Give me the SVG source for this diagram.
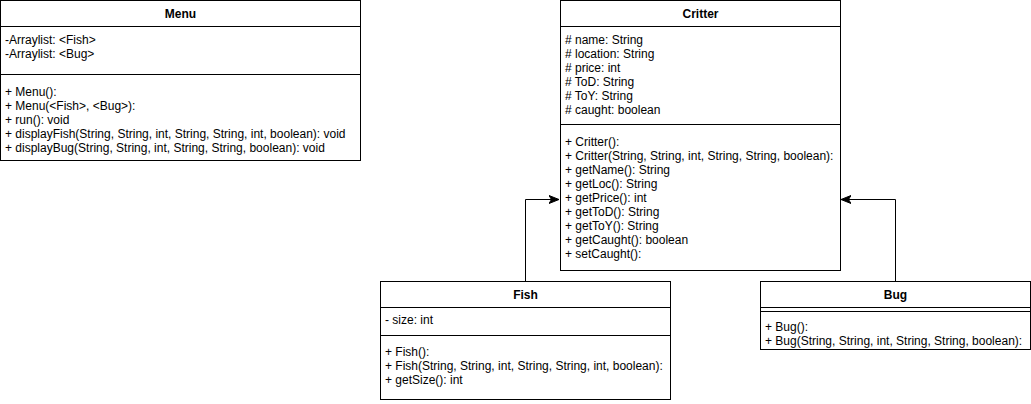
<svg xmlns="http://www.w3.org/2000/svg" width="1031" height="404" viewBox="0 0 1031 404">
<defs>
<style>
.box{fill:#ffffff;stroke:#000000;stroke-width:1}
.ln{stroke:#000000;stroke-width:1;fill:none}
.t{font-family:"Liberation Sans",Arial,Helvetica,sans-serif;font-size:12px;fill:#000000}
.h{font-family:"Liberation Sans",Arial,Helvetica,sans-serif;font-size:12px;font-weight:bold;fill:#000000;text-anchor:middle}
.edge{stroke:#000000;stroke-width:1;fill:none}
</style>
<marker id="arr" viewBox="0 0 10 10" refX="10" refY="5" markerWidth="10" markerHeight="10" markerUnits="userSpaceOnUse" orient="auto">
<path d="M0,1 L10,5 L0,9 L2.5,5 Z" fill="#000000" stroke="#000000" stroke-width="1"/>
</marker>
</defs>
<rect width="1031" height="404" fill="#ffffff"/>
<g id="connectors">
<path class="edge" d="M525.5,281 V199.5 H559" marker-end="url(#arr)"/>
<path class="edge" d="M895.5,281 V199.5 H841" marker-end="url(#arr)"/>
</g>
<g id="Menu">
<rect class="box" x="0.5" y="0.5" width="360" height="160"/>
<line class="ln" x1="0.5" y1="26.5" x2="360.5" y2="26.5"/>
<line class="ln" x1="0.5" y1="74.5" x2="360.5" y2="74.5"/>
<text class="h" x="180.5" y="18">Menu</text>
<text class="t" x="5" y="44">-Arraylist: &lt;Fish&gt;</text>
<text class="t" x="5" y="58">-Arraylist: &lt;Bug&gt;</text>
<text class="t" x="5" y="96">+ Menu():</text>
<text class="t" x="5" y="110">+ Menu(&lt;Fish&gt;, &lt;Bug&gt;):</text>
<text class="t" x="5" y="124">+ run(): void</text>
<text class="t" x="5" y="138">+ displayFish(String, String, int, String, String, int, boolean): void</text>
<text class="t" x="5" y="152">+ displayBug(String, String, int, String, String, boolean): void</text>
</g>
<g id="Critter">
<rect class="box" x="560.5" y="0.5" width="280" height="270"/>
<line class="ln" x1="560.5" y1="26.5" x2="840.5" y2="26.5"/>
<line class="ln" x1="560.5" y1="124.5" x2="840.5" y2="124.5"/>
<text class="h" x="700.5" y="18">Critter</text>
<text class="t" x="565" y="44"># name: String</text>
<text class="t" x="565" y="58"># location: String</text>
<text class="t" x="565" y="72"># price: int</text>
<text class="t" x="565" y="86"># ToD: String</text>
<text class="t" x="565" y="100"># ToY: String</text>
<text class="t" x="565" y="114"># caught: boolean</text>
<text class="t" x="565" y="146">+ Critter():</text>
<text class="t" x="565" y="160">+ Critter(String, String, int, String, String, boolean):</text>
<text class="t" x="565" y="174">+ getName(): String</text>
<text class="t" x="565" y="188">+ getLoc(): String</text>
<text class="t" x="565" y="202">+ getPrice(): int</text>
<text class="t" x="565" y="216">+ getToD(): String</text>
<text class="t" x="565" y="230">+ getToY(): String</text>
<text class="t" x="565" y="244">+ getCaught(): boolean</text>
<text class="t" x="565" y="258">+ setCaught():</text>
</g>
<g id="Fish">
<rect class="box" x="380.5" y="281.5" width="290" height="118"/>
<line class="ln" x1="380.5" y1="307.5" x2="670.5" y2="307.5"/>
<line class="ln" x1="380.5" y1="335.5" x2="670.5" y2="335.5"/>
<text class="h" x="525.5" y="299">Fish</text>
<text class="t" x="385" y="324">- size: int</text>
<text class="t" x="385" y="356">+ Fish():</text>
<text class="t" x="385" y="370">+ Fish(String, String, int, String, String, int, boolean):</text>
<text class="t" x="385" y="384">+ getSize(): int</text>
</g>
<g id="Bug">
<rect class="box" x="760.5" y="281.5" width="270" height="68"/>
<line class="ln" x1="760.5" y1="307.5" x2="1030.5" y2="307.5"/>
<line class="ln" x1="760.5" y1="311.5" x2="1030.5" y2="311.5"/>
<text class="h" x="895.5" y="299">Bug</text>
<text class="t" x="765" y="331">+ Bug():</text>
<text class="t" x="765" y="345">+ Bug(String, String, int, String, String, boolean):</text>
</g>
</svg>
